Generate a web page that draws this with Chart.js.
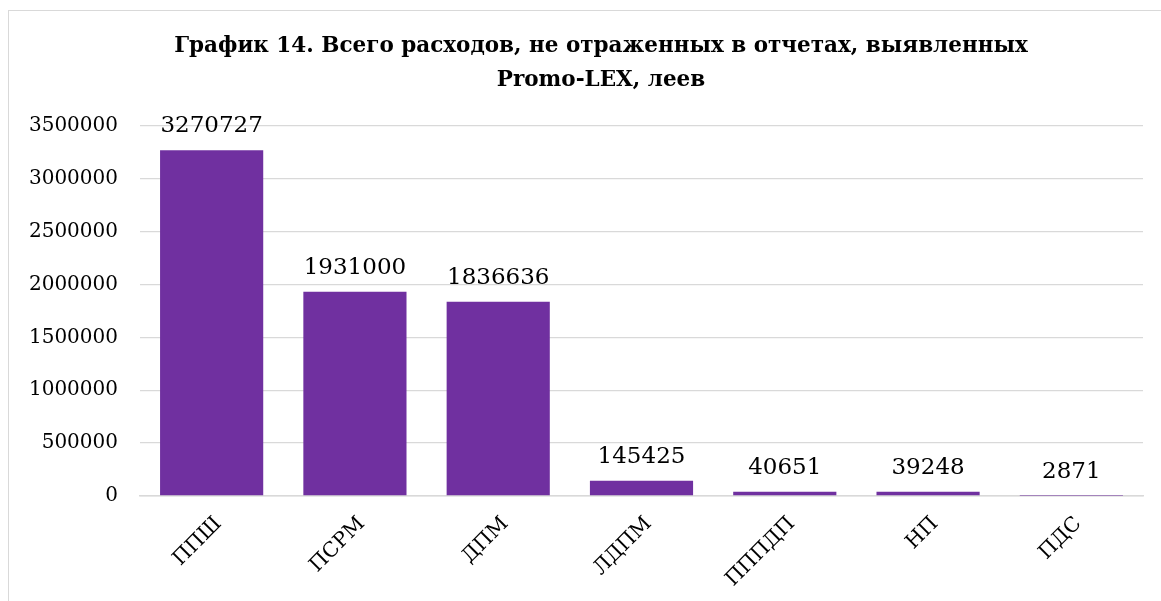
<!DOCTYPE html>
<html><head><meta charset="utf-8">
<script src="https://cdn.jsdelivr.net/npm/chart.js@4/dist/chart.umd.min.js"></script>
<style>
html,body{margin:0;padding:0;background:#fff;overflow:hidden}
#frame{position:absolute;left:8px;top:10px;width:1160px;height:600px;border:1px solid #d9d9d9;box-sizing:border-box}
#wrap{position:absolute;left:0;top:0;width:1161px;height:601px}
</style></head><body>
<div id="frame"></div>
<div id="wrap"><canvas id="c"></canvas></div>
<script>
const categories = ["ППШ","ПСРМ","ДПМ","ЛДПМ","ПППДП","НП","ПДС"];
const values = [3270727,1931000,1836636,145425,40651,39248,2871];
const titleLines = ["График 14. Всего расходов, не отраженных в отчетах, выявленных","Promo-LEX, леев"];
const yTicks = [0,500000,1000000,1500000,2000000,2500000,3000000,3500000];

const FONT = "'DejaVu Serif', serif";
const labelPlugin = {
  id:'vals',
  afterDatasetsDraw(chart){
    const ctx = chart.ctx;
    const meta = chart.getDatasetMeta(0);
    ctx.save();
    ctx.font = "23px " + FONT;
    ctx.fillStyle = "#000";
    ctx.textAlign = "center";
    ctx.textBaseline = "alphabetic";
    meta.data.forEach((bar,i)=>{
      ctx.fillText(String(values[i]), bar.x, bar.y - 18);
    });
    ctx.restore();
  }
};
const titlePlugin = {
  id:'ttl',
  afterDraw(chart){
    const ctx = chart.ctx;
    ctx.save();
    ctx.font = "bold 21.5px " + FONT;
    ctx.fillStyle = "#000";
    ctx.textAlign = "center";
    ctx.textBaseline = "middle";
    const cx = 601;
    titleLines.forEach((t,i)=>ctx.fillText(t, cx, 46 + i*34));
    ctx.restore();
  }
};
new Chart(document.getElementById('c'),{
  type:'bar',
  data:{labels:categories,datasets:[{data:values,backgroundColor:'#7030A0',barPercentage:0.72,categoryPercentage:1}]},
  options:{
    responsive:true,maintainAspectRatio:false,animation:false,
    layout:{padding:{left:24,right:18,top:126,bottom:0}},
    plugins:{
      legend:{display:false},tooltip:{enabled:false},title:{display:false}
    },
    scales:{
      y:{min:0,max:3500000,
        afterBuildTicks(s){s.ticks = yTicks.map(v=>({value:v}));},
        afterFit(s){s.width=116;},
        ticks:{color:'#000',font:{family:FONT,size:20},padding:22,callback:(v)=>String(v)},
        grid:{color:'#d9d9d9',drawTicks:false,lineWidth:1.3},
        border:{display:false}},
      x:{
        afterFit(s){s.height=105;},
        ticks:{color:'#000',font:{family:FONT,size:20.5},minRotation:45,maxRotation:45,padding:16,labelOffset:7},
        grid:{display:false,drawTicks:false},
        border:{color:'#d9d9d9',width:1.5}}
    }
  },
  plugins:[labelPlugin,titlePlugin]
});
</script></body></html>
